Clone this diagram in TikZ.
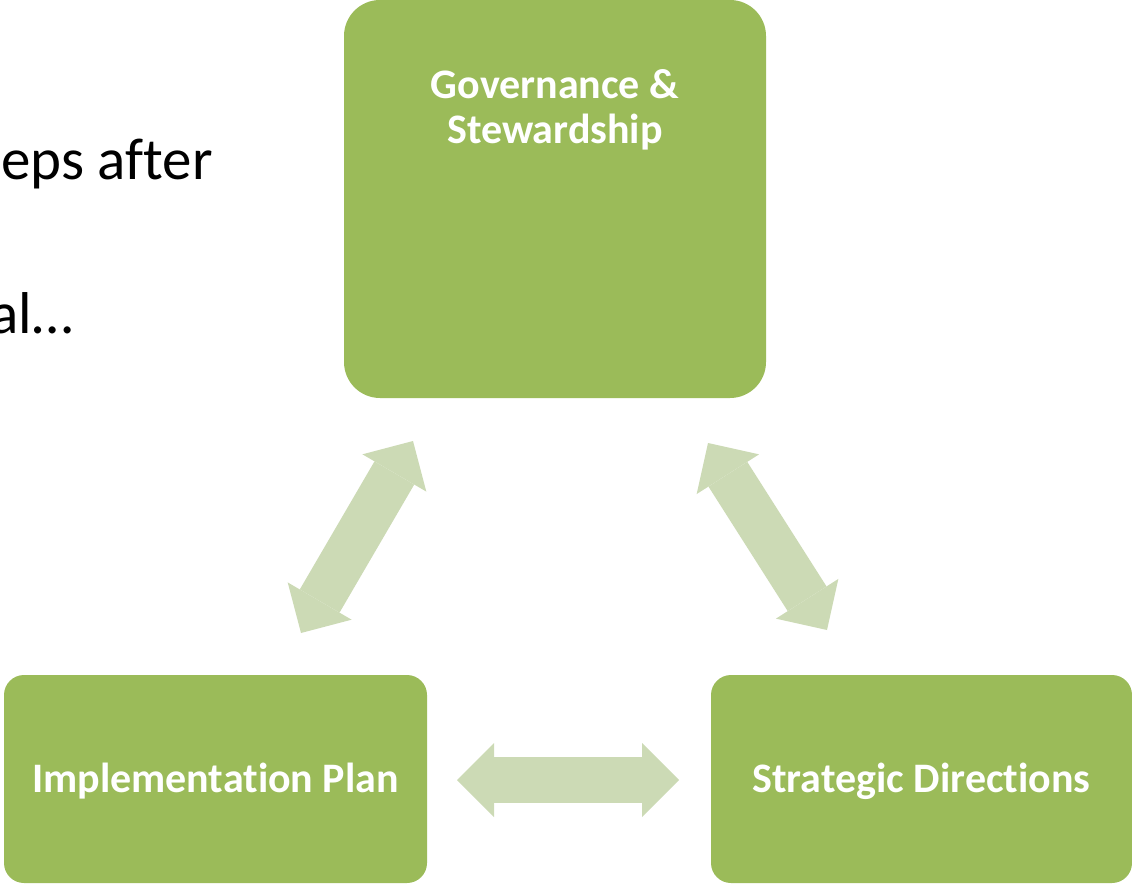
\documentclass[tikz,border=0pt]{standalone}
\usepackage{fontspec}
\setmainfont{Carlito}[Ligatures=NoCommon]
\usepackage{tikz}
\usetikzlibrary{arrows.meta}
\definecolor{boxgreen}{RGB}{155,187,89}
\definecolor{arrowgreen}{RGB}{204,218,181}

\begin{document}
\begin{tikzpicture}[x=1pt, y=-1pt,
    greenbox/.style={fill=boxgreen, text=white, inner sep=0pt, font=\bfseries\fontsize{42}{45}\selectfont, align=center},
    fatarrow/.style={draw=arrowgreen, line width=46pt,
        {Triangle[width=74pt,length=37pt,line width=0pt,fill=arrowgreen]}-{Triangle[width=74pt,length=37pt,line width=0pt,fill=arrowgreen]}}]
    \useasboundingbox (0,0) rectangle (1132,885);

    % Draw the text on the left
    \node[anchor=base east, inner sep=0pt, font=\fontsize{59}{70}\selectfont] (steps) at (213,180) {eps after};
    \node[anchor=base east, inner sep=0pt, font=\fontsize{59}{70}\selectfont] (more) at (73,333) {al…};

    % Draw the boxes
    \node[greenbox, rounded corners=36pt, minimum width=422pt, minimum height=398pt] (gs) at (555,199) {};
    \node[greenbox, fill=none, anchor=north] (gs-label) at (555,69) {Governance \&\\Stewardship};
    \node[greenbox, rounded corners=20pt, minimum width=423pt, minimum height=208pt, text height=27pt, text depth=0pt] (ip) at (215.5,779) {Implementation Plan};
    \node[greenbox, rounded corners=20pt, minimum width=421pt, minimum height=208pt, text height=27pt, text depth=0pt] (sd) at (921.5,779) {Strategic Directions};

    % Tips of the arrows
    \coordinate (gs-left) at (413,441);
    \coordinate (ip-top) at (301,633);
    \coordinate (gs-right) at (708,443);
    \coordinate (sd-top) at (827,630);
    \coordinate (ip-right) at (457,780);
    \coordinate (sd-left) at (679,780);

    % Draw the arrows
    \draw[fatarrow] (gs-left) -- (ip-top);
    \draw[fatarrow] (gs-right) -- (sd-top);
    \draw[fatarrow] (ip-right) -- (sd-left);
\end{tikzpicture}
\end{document}
